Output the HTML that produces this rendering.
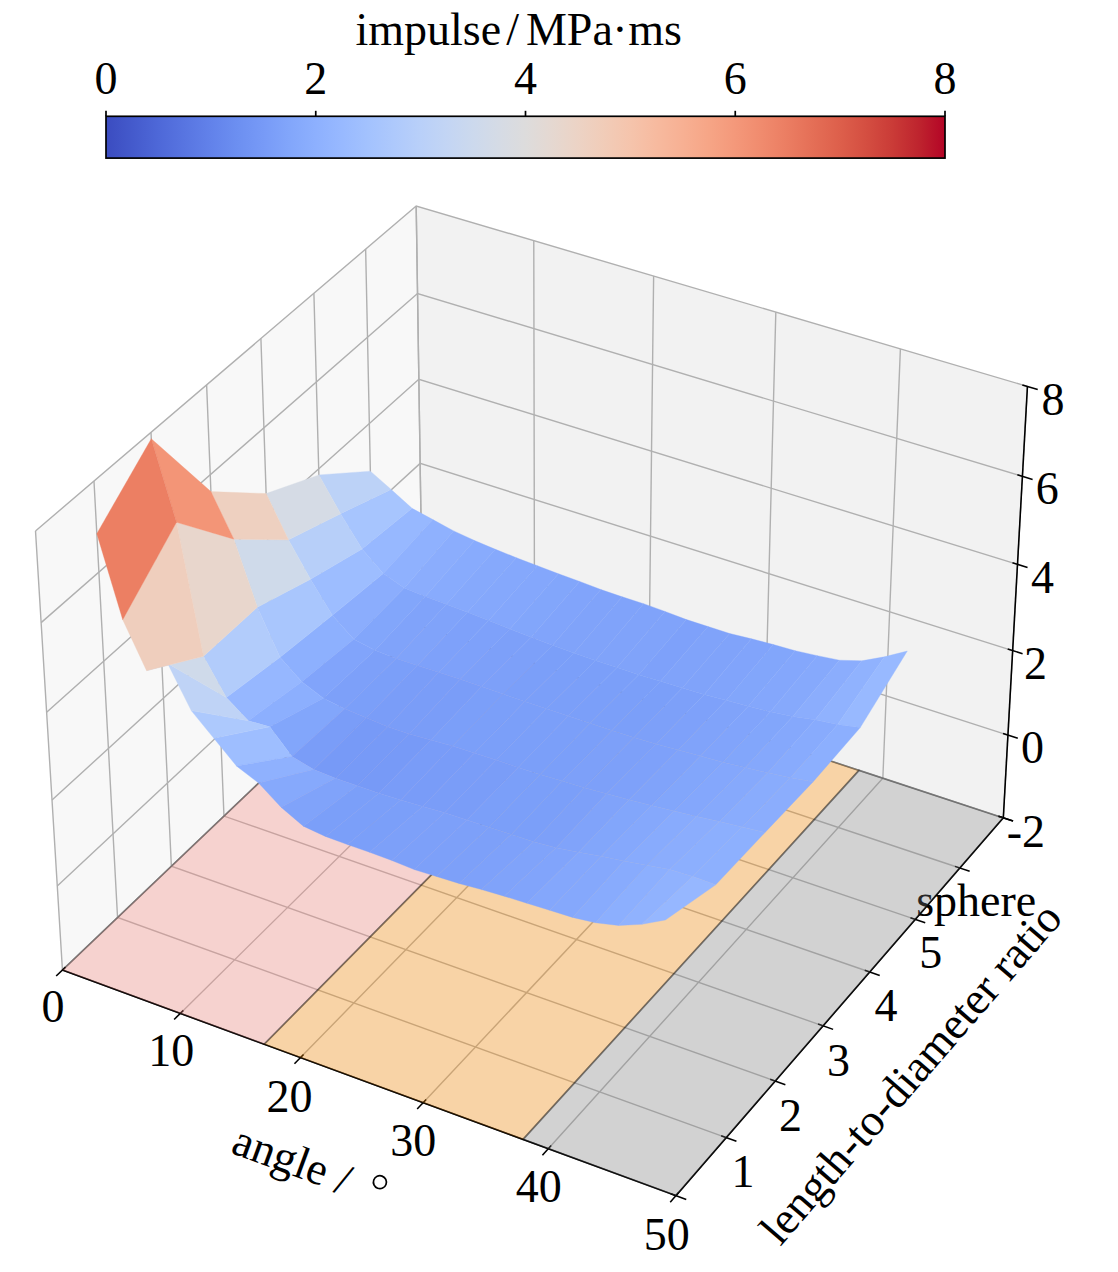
<!DOCTYPE html><html><head><meta charset="utf-8"><style>html,body{margin:0;padding:0;background:#fff;width:1118px;height:1272px;overflow:hidden}</style></head><body><svg width="1118" height="1272" viewBox="0 0 1118 1272" style="display:block">
<rect width="1118" height="1272" fill="#ffffff"/>
<polygon points="62.43,970.05 422.64,626.72 416.19,205.97 35.51,530.96" fill="#f8f8f8"/>
<polygon points="422.64,626.72 1003.31,817.84 1027.45,386.40 416.19,205.97" fill="#f2f2f2"/>
<polygon points="62.43,970.05 675.93,1195.64 1003.31,817.84 422.64,626.72" fill="#f5f5f5"/>
<g fill="none" stroke="#b0b0b0" stroke-width="1.4"><polyline points="62.43,970.05 422.64,626.72 416.19,205.97"/><polyline points="180.30,1013.39 534.56,663.55 533.78,240.68"/><polyline points="300.51,1057.60 648.52,701.06 653.63,276.06"/><polyline points="423.14,1102.69 764.60,739.27 775.82,312.12"/><polyline points="548.25,1148.69 882.84,778.19 900.40,348.90"/><polyline points="675.93,1195.64 1003.31,817.84 1027.45,386.40"/><polyline points="35.51,530.96 62.43,970.05 675.93,1195.64"/><polyline points="93.98,481.05 117.55,917.51 726.19,1137.63"/><polyline points="150.99,432.37 171.37,866.21 775.22,1081.05"/><polyline points="206.62,384.88 223.96,816.09 823.06,1025.85"/><polyline points="260.91,338.54 275.33,767.12 869.74,971.97"/><polyline points="313.90,293.29 325.55,719.26 915.32,919.37"/><polyline points="365.64,249.12 374.63,672.47 959.83,868.01"/><polyline points="416.19,205.97 422.64,626.72 1003.31,817.84"/><polyline points="1003.31,817.84 422.64,626.72 62.43,970.05"/><polyline points="1007.94,735.07 421.40,545.85 57.27,885.95"/><polyline points="1012.67,650.61 420.13,463.39 52.01,800.05"/><polyline points="1017.49,564.37 418.84,379.29 46.63,712.29"/><polyline points="1022.42,476.33 417.53,293.50 41.13,622.62"/><polyline points="1027.45,386.40 416.19,205.97 35.51,530.96"/></g>
<g fill="none" stroke="#000" stroke-width="1.55"><polyline points="62.43,970.05 675.93,1195.64"/><polyline points="675.93,1195.64 1003.31,817.84"/><polyline points="1003.31,817.84 1027.45,386.40"/><polyline points="56.17,976.01 65.55,967.08"/><polyline points="174.14,1019.47 183.37,1010.36"/><polyline points="294.46,1063.80 303.53,1054.50"/><polyline points="417.19,1109.01 426.10,1099.53"/><polyline points="542.42,1155.15 551.16,1145.47"/><polyline points="670.22,1202.23 678.78,1192.35"/><polyline points="686.26,1199.44 670.77,1193.74"/><polyline points="736.43,1141.34 721.08,1135.78"/><polyline points="785.37,1084.67 770.15,1079.25"/><polyline points="833.12,1029.37 818.03,1024.09"/><polyline points="879.73,975.41 864.76,970.25"/><polyline points="925.22,922.73 910.38,917.70"/><polyline points="969.65,871.29 954.93,866.37"/><polyline points="1013.04,821.04 998.45,816.24"/><polyline points="1013.04,821.04 998.45,816.24"/><polyline points="1017.78,738.25 1003.03,733.49"/><polyline points="1022.61,653.75 1007.70,649.04"/><polyline points="1027.54,567.48 1012.47,562.82"/><polyline points="1032.58,479.40 1017.35,474.79"/><polyline points="1037.73,389.44 1022.32,384.89"/></g>
<g font-family="Liberation Serif" fill="#000"><text x="52.9" y="1022.4" text-anchor="middle" font-size="46" >0</text><text x="171.3" y="1065.7" text-anchor="middle" font-size="46" >10</text><text x="289.5" y="1111.5" text-anchor="middle" font-size="46" >20</text><text x="413.2" y="1156.2" text-anchor="middle" font-size="46" >30</text><text x="538.7" y="1201.9" text-anchor="middle" font-size="46" >40</text><text x="666.7" y="1249.6" text-anchor="middle" font-size="46" >50</text><text x="743.0" y="1186.9" text-anchor="middle" font-size="46" >1</text><text x="790.5" y="1130.5" text-anchor="middle" font-size="46" >2</text><text x="838.4" y="1075.9" text-anchor="middle" font-size="46" >3</text><text x="886.0" y="1021.2" text-anchor="middle" font-size="46" >4</text><text x="930.8" y="968.2" text-anchor="middle" font-size="46" >5</text><text x="976.2" y="915.8" text-anchor="middle" font-size="46" >sphere</text><text x="1053.0" y="414.5" text-anchor="middle" font-size="46" >8</text><text x="1047.2" y="504.0" text-anchor="middle" font-size="46" >6</text><text x="1042.6" y="593.1" text-anchor="middle" font-size="46" >4</text><text x="1035.4" y="679.4" text-anchor="middle" font-size="46" >2</text><text x="1032.5" y="763.4" text-anchor="middle" font-size="46" >0</text><text x="1025.9" y="846.5" text-anchor="middle" font-size="46" >-2</text></g>
<g font-family="Liberation Serif" fill="#000" font-size="45.5"><g transform="translate(229.5,1152.5) rotate(20.18)"><text x="0" y="0">angle</text><text x="110" y="1">/</text><circle cx="151.4" cy="-24" r="6.5" fill="none" stroke="#000" stroke-width="1.7"/></g><g transform="translate(780.3,1246.9) rotate(-49.1)"><text x="0" y="0">length-to-diameter ratio</text></g></g>
<polygon points="62.43,970.05 264.20,1044.24 614.12,689.74 422.64,626.72" fill="#f8887e" fill-opacity="0.32" stroke="#000" stroke-opacity="0.32" stroke-width="1.7"/>
<polygon points="264.20,1044.24 523.03,1139.42 859.02,770.35 614.12,689.74" fill="#ff8c00" fill-opacity="0.32" stroke="#000" stroke-opacity="0.32" stroke-width="1.7"/>
<polygon points="523.03,1139.42 675.93,1195.64 1003.31,817.84 859.02,770.35" fill="#808080" fill-opacity="0.3" stroke="#000" stroke-opacity="0.3" stroke-width="1.7"/>
<g><polygon points="362.06,548.92 383.30,573.48 432.85,519.62 412.08,508.36" fill="#97b8ff" stroke="#97b8ff" stroke-width="0.35"/><polygon points="340.55,513.68 362.06,548.92 412.08,508.36 391.21,489.55" fill="#a7c5fe" stroke="#a7c5fe" stroke-width="0.35"/><polygon points="383.30,573.48 404.33,587.90 453.67,530.90 432.85,519.62" fill="#8fb1fe" stroke="#8fb1fe" stroke-width="0.35"/><polygon points="318.86,474.90 340.55,513.68 391.21,489.55 370.36,471.16" fill="#bcd2f7" stroke="#bcd2f7" stroke-width="0.35"/><polygon points="404.33,587.90 425.31,596.43 474.52,540.52 453.67,530.90" fill="#8badfd" stroke="#8badfd" stroke-width="0.35"/><polygon points="425.31,596.43 446.35,604.14 495.42,549.32 474.52,540.52" fill="#88abfd" stroke="#88abfd" stroke-width="0.35"/><polygon points="446.35,604.14 467.46,612.30 516.38,557.74 495.42,549.32" fill="#86a9fc" stroke="#86a9fc" stroke-width="0.35"/><polygon points="467.46,612.30 488.63,620.49 537.40,565.75 516.38,557.74" fill="#85a8fc" stroke="#85a8fc" stroke-width="0.35"/><polygon points="488.63,620.49 509.87,629.12 558.49,573.79 537.40,565.75" fill="#84a7fc" stroke="#84a7fc" stroke-width="0.35"/><polygon points="509.87,629.12 531.17,637.36 579.64,581.43 558.49,573.79" fill="#82a6fb" stroke="#82a6fb" stroke-width="0.35"/><polygon points="531.17,637.36 552.54,645.19 600.86,589.52 579.64,581.43" fill="#81a4fb" stroke="#81a4fb" stroke-width="0.35"/><polygon points="332.32,615.33 353.80,639.30 404.33,587.90 383.30,573.48" fill="#8badfd" stroke="#8badfd" stroke-width="0.35"/><polygon points="310.49,579.36 332.32,615.33 383.30,573.48 362.06,548.92" fill="#9dbdff" stroke="#9dbdff" stroke-width="0.35"/><polygon points="353.80,639.30 374.99,650.13 425.31,596.43 404.33,587.90" fill="#82a6fb" stroke="#82a6fb" stroke-width="0.35"/><polygon points="552.54,645.19 573.98,653.06 622.15,596.79 600.86,589.52" fill="#80a3fa" stroke="#80a3fa" stroke-width="0.35"/><polygon points="288.46,539.81 310.49,579.36 362.06,548.92 340.55,513.68" fill="#b7cff9" stroke="#b7cff9" stroke-width="0.35"/><polygon points="374.99,650.13 396.18,658.44 446.35,604.14 425.31,596.43" fill="#80a3fa" stroke="#80a3fa" stroke-width="0.35"/><polygon points="573.98,653.06 595.49,660.52 643.52,603.66 622.15,596.79" fill="#80a3fa" stroke="#80a3fa" stroke-width="0.35"/><polygon points="396.18,658.44 417.42,665.50 467.46,612.30 446.35,604.14" fill="#80a3fa" stroke="#80a3fa" stroke-width="0.35"/><polygon points="595.49,660.52 617.08,667.59 664.95,611.40 643.52,603.66" fill="#80a3fa" stroke="#80a3fa" stroke-width="0.35"/><polygon points="266.12,493.57 288.46,539.81 340.55,513.68 318.86,474.90" fill="#d5dbe5" stroke="#d5dbe5" stroke-width="0.35"/><polygon points="417.42,665.50 438.73,672.16 488.63,620.49 467.46,612.30" fill="#7ea1fa" stroke="#7ea1fa" stroke-width="0.35"/><polygon points="617.08,667.59 638.74,674.68 686.44,619.58 664.95,611.40" fill="#80a3fa" stroke="#80a3fa" stroke-width="0.35"/><polygon points="438.73,672.16 460.12,679.27 509.87,629.12 488.63,620.49" fill="#7ea1fa" stroke="#7ea1fa" stroke-width="0.35"/><polygon points="638.74,674.68 660.48,681.37 708.02,626.53 686.44,619.58" fill="#7ea1fa" stroke="#7ea1fa" stroke-width="0.35"/><polygon points="460.12,679.27 481.58,686.41 531.17,637.36 509.87,629.12" fill="#7da0f9" stroke="#7da0f9" stroke-width="0.35"/><polygon points="660.48,681.37 682.30,688.08 729.67,633.49 708.02,626.53" fill="#80a3fa" stroke="#80a3fa" stroke-width="0.35"/><polygon points="481.58,686.41 503.12,693.99 552.54,645.19 531.17,637.36" fill="#7da0f9" stroke="#7da0f9" stroke-width="0.35"/><polygon points="682.30,688.08 704.21,694.39 751.44,638.78 729.67,633.49" fill="#80a3fa" stroke="#80a3fa" stroke-width="0.35"/><polygon points="503.12,693.99 524.73,701.60 573.98,653.06 552.54,645.19" fill="#7b9ff9" stroke="#7b9ff9" stroke-width="0.35"/><polygon points="280.04,657.37 301.81,681.64 353.80,639.30 332.32,615.33" fill="#8db0fe" stroke="#8db0fe" stroke-width="0.35"/><polygon points="301.81,681.64 323.35,698.21 374.99,650.13 353.80,639.30" fill="#81a4fb" stroke="#81a4fb" stroke-width="0.35"/><polygon points="704.21,694.39 726.20,700.29 773.29,644.52 751.44,638.78" fill="#81a4fb" stroke="#81a4fb" stroke-width="0.35"/><polygon points="257.35,607.19 280.04,657.37 332.32,615.33 310.49,579.36" fill="#a9c6fd" stroke="#a9c6fd" stroke-width="0.35"/><polygon points="323.35,698.21 344.77,708.83 396.18,658.44 374.99,650.13" fill="#7da0f9" stroke="#7da0f9" stroke-width="0.35"/><polygon points="524.73,701.60 546.42,708.81 595.49,660.52 573.98,653.06" fill="#7b9ff9" stroke="#7b9ff9" stroke-width="0.35"/><polygon points="726.20,700.29 748.28,706.22 795.20,650.70 773.29,644.52" fill="#82a6fb" stroke="#82a6fb" stroke-width="0.35"/><polygon points="344.77,708.83 366.21,717.77 417.42,665.50 396.18,658.44" fill="#7b9ff9" stroke="#7b9ff9" stroke-width="0.35"/><polygon points="546.42,708.81 568.18,716.05 617.08,667.59 595.49,660.52" fill="#7b9ff9" stroke="#7b9ff9" stroke-width="0.35"/><polygon points="748.28,706.22 770.46,711.75 817.23,655.63 795.20,650.70" fill="#84a7fc" stroke="#84a7fc" stroke-width="0.35"/><polygon points="366.21,717.77 387.72,726.74 438.73,672.16 417.42,665.50" fill="#7a9df8" stroke="#7a9df8" stroke-width="0.35"/><polygon points="233.83,539.13 257.35,607.19 310.49,579.36 288.46,539.81" fill="#cfdaea" stroke="#cfdaea" stroke-width="0.35"/><polygon points="568.18,716.05 590.02,723.30 638.74,674.68 617.08,667.59" fill="#7b9ff9" stroke="#7b9ff9" stroke-width="0.35"/><polygon points="387.72,726.74 409.26,734.03 460.12,679.27 438.73,672.16" fill="#7a9df8" stroke="#7a9df8" stroke-width="0.35"/><polygon points="770.46,711.75 792.74,716.43 839.37,660.15 817.23,655.63" fill="#86a9fc" stroke="#86a9fc" stroke-width="0.35"/><polygon points="590.02,723.30 611.93,730.59 660.48,681.37 638.74,674.68" fill="#7b9ff9" stroke="#7b9ff9" stroke-width="0.35"/><polygon points="210.91,491.62 233.83,539.13 288.46,539.81 266.12,493.57" fill="#eed0c0" stroke="#eed0c0" stroke-width="0.35"/><polygon points="409.26,734.03 430.86,740.05 481.58,686.41 460.12,679.27" fill="#7a9df8" stroke="#7a9df8" stroke-width="0.35"/><polygon points="611.93,730.59 633.93,737.47 682.30,688.08 660.48,681.37" fill="#7b9ff9" stroke="#7b9ff9" stroke-width="0.35"/><polygon points="792.74,716.43 815.16,719.85 861.74,660.84 839.37,660.15" fill="#8badfd" stroke="#8badfd" stroke-width="0.35"/><polygon points="430.86,740.05 452.54,746.10 503.12,693.99 481.58,686.41" fill="#7b9ff9" stroke="#7b9ff9" stroke-width="0.35"/><polygon points="633.93,737.47 656.01,743.95 704.21,694.39 682.30,688.08" fill="#7da0f9" stroke="#7da0f9" stroke-width="0.35"/><polygon points="815.16,719.85 837.64,724.58 884.42,656.81 861.74,660.84" fill="#90b2fe" stroke="#90b2fe" stroke-width="0.35"/><polygon points="452.54,746.10 474.31,753.04 524.73,701.60 503.12,693.99" fill="#7b9ff9" stroke="#7b9ff9" stroke-width="0.35"/><polygon points="656.01,743.95 678.18,750.02 726.20,700.29 704.21,694.39" fill="#7ea1fa" stroke="#7ea1fa" stroke-width="0.35"/><polygon points="226.30,697.47 248.32,720.75 301.81,681.64 280.04,657.37" fill="#96b7ff" stroke="#96b7ff" stroke-width="0.35"/><polygon points="248.32,720.75 269.76,726.79 323.35,698.21 301.81,681.64" fill="#8caffe" stroke="#8caffe" stroke-width="0.35"/><polygon points="474.31,753.04 496.16,759.99 546.42,708.81 524.73,701.60" fill="#7b9ff9" stroke="#7b9ff9" stroke-width="0.35"/><polygon points="837.64,724.58 860.27,727.60 907.31,651.04 884.42,656.81" fill="#98b9ff" stroke="#98b9ff" stroke-width="0.35"/><polygon points="269.76,726.79 292.02,756.56 344.77,708.83 323.35,698.21" fill="#82a6fb" stroke="#82a6fb" stroke-width="0.35"/><polygon points="678.18,750.02 700.43,756.12 748.28,706.22 726.20,700.29" fill="#80a3fa" stroke="#80a3fa" stroke-width="0.35"/><polygon points="203.51,656.36 226.30,697.47 280.04,657.37 257.35,607.19" fill="#b2ccfb" stroke="#b2ccfb" stroke-width="0.35"/><polygon points="292.02,756.56 313.75,769.55 366.21,717.77 344.77,708.83" fill="#7a9df8" stroke="#7a9df8" stroke-width="0.35"/><polygon points="496.16,759.99 518.10,767.40 568.18,716.05 546.42,708.81" fill="#7b9ff9" stroke="#7b9ff9" stroke-width="0.35"/><polygon points="700.43,756.12 722.77,762.24 770.46,711.75 748.28,706.22" fill="#81a4fb" stroke="#81a4fb" stroke-width="0.35"/><polygon points="313.75,769.55 335.42,778.28 387.72,726.74 366.21,717.77" fill="#779af7" stroke="#779af7" stroke-width="0.35"/><polygon points="518.10,767.40 540.11,774.41 590.02,723.30 568.18,716.05" fill="#7b9ff9" stroke="#7b9ff9" stroke-width="0.35"/><polygon points="335.42,778.28 357.13,785.74 409.26,734.03 387.72,726.74" fill="#779af7" stroke="#779af7" stroke-width="0.35"/><polygon points="722.77,762.24 745.22,767.52 792.74,716.43 770.46,711.75" fill="#82a6fb" stroke="#82a6fb" stroke-width="0.35"/><polygon points="540.11,774.41 562.20,781.01 611.93,730.59 590.02,723.30" fill="#7b9ff9" stroke="#7b9ff9" stroke-width="0.35"/><polygon points="357.13,785.74 378.91,793.23 430.86,740.05 409.26,734.03" fill="#779af7" stroke="#779af7" stroke-width="0.35"/><polygon points="745.22,767.52 767.76,772.82 815.16,719.85 792.74,716.43" fill="#85a8fc" stroke="#85a8fc" stroke-width="0.35"/><polygon points="562.20,781.01 584.37,787.64 633.93,737.47 611.93,730.59" fill="#7da0f9" stroke="#7da0f9" stroke-width="0.35"/><polygon points="176.50,522.30 203.51,656.36 257.35,607.19 233.83,539.13" fill="#e8d6cc" stroke="#e8d6cc" stroke-width="0.35"/><polygon points="378.91,793.23 400.76,799.89 452.54,746.10 430.86,740.05" fill="#799cf8" stroke="#799cf8" stroke-width="0.35"/><polygon points="767.76,772.82 790.40,777.71 837.64,724.58 815.16,719.85" fill="#88abfd" stroke="#88abfd" stroke-width="0.35"/><polygon points="584.37,787.64 606.63,793.86 656.01,743.95 633.93,737.47" fill="#7da0f9" stroke="#7da0f9" stroke-width="0.35"/><polygon points="400.76,799.89 422.69,806.57 474.31,753.04 452.54,746.10" fill="#799cf8" stroke="#799cf8" stroke-width="0.35"/><polygon points="606.63,793.86 628.99,799.67 678.18,750.02 656.01,743.95" fill="#7ea1fa" stroke="#7ea1fa" stroke-width="0.35"/><polygon points="790.40,777.71 813.17,781.76 860.27,727.60 837.64,724.58" fill="#8caffe" stroke="#8caffe" stroke-width="0.35"/><polygon points="422.69,806.57 444.70,812.84 496.16,759.99 474.31,753.04" fill="#7a9df8" stroke="#7a9df8" stroke-width="0.35"/><polygon points="628.99,799.67 651.43,805.51 700.43,756.12 678.18,750.02" fill="#80a3fa" stroke="#80a3fa" stroke-width="0.35"/><polygon points="444.70,812.84 466.80,820.01 518.10,767.40 496.16,759.99" fill="#7a9df8" stroke="#7a9df8" stroke-width="0.35"/><polygon points="151.29,438.77 176.50,522.30 233.83,539.13 210.91,491.62" fill="#f39577" stroke="#f39577" stroke-width="0.35"/><polygon points="651.43,805.51 673.96,810.94 722.77,762.24 700.43,756.12" fill="#82a6fb" stroke="#82a6fb" stroke-width="0.35"/><polygon points="466.80,820.01 488.98,827.20 540.11,774.41 518.10,767.40" fill="#7b9ff9" stroke="#7b9ff9" stroke-width="0.35"/><polygon points="213.82,738.29 236.42,765.93 292.02,756.56 269.76,726.79" fill="#9ebeff" stroke="#9ebeff" stroke-width="0.35"/><polygon points="236.42,765.93 258.61,783.09 313.75,769.55 292.02,756.56" fill="#8fb1fe" stroke="#8fb1fe" stroke-width="0.35"/><polygon points="191.19,710.60 213.82,738.29 269.76,726.79 248.32,720.75" fill="#adc9fd" stroke="#adc9fd" stroke-width="0.35"/><polygon points="167.63,663.38 191.19,710.60 248.32,720.75 226.30,697.47" fill="#bfd3f6" stroke="#bfd3f6" stroke-width="0.35"/><polygon points="258.61,783.09 281.06,807.23 335.42,778.28 313.75,769.55" fill="#86a9fc" stroke="#86a9fc" stroke-width="0.35"/><polygon points="673.96,810.94 696.60,816.38 745.22,767.52 722.77,762.24" fill="#84a7fc" stroke="#84a7fc" stroke-width="0.35"/><polygon points="146.60,670.63 167.63,663.38 226.30,697.47 203.51,656.36" fill="#cfdaea" stroke="#cfdaea" stroke-width="0.35"/><polygon points="488.98,827.20 511.25,834.41 562.20,781.01 540.11,774.41" fill="#7b9ff9" stroke="#7b9ff9" stroke-width="0.35"/><polygon points="281.06,807.23 303.35,826.15 357.13,785.74 335.42,778.28" fill="#80a3fa" stroke="#80a3fa" stroke-width="0.35"/><polygon points="303.35,826.15 325.41,836.43 378.91,793.23 357.13,785.74" fill="#7b9ff9" stroke="#7b9ff9" stroke-width="0.35"/><polygon points="696.60,816.38 719.33,821.42 767.76,772.82 745.22,767.52" fill="#86a9fc" stroke="#86a9fc" stroke-width="0.35"/><polygon points="511.25,834.41 533.59,841.66 584.37,787.64 562.20,781.01" fill="#7b9ff9" stroke="#7b9ff9" stroke-width="0.35"/><polygon points="325.41,836.43 347.48,844.56 400.76,799.89 378.91,793.23" fill="#7b9ff9" stroke="#7b9ff9" stroke-width="0.35"/><polygon points="122.73,619.74 146.60,670.63 203.51,656.36 176.50,522.30" fill="#efcebd" stroke="#efcebd" stroke-width="0.35"/><polygon points="719.33,821.42 742.15,826.91 790.40,777.71 767.76,772.82" fill="#89acfd" stroke="#89acfd" stroke-width="0.35"/><polygon points="533.59,841.66 556.02,847.63 606.63,793.86 584.37,787.64" fill="#7da0f9" stroke="#7da0f9" stroke-width="0.35"/><polygon points="347.48,844.56 369.62,852.28 422.69,806.57 400.76,799.89" fill="#7b9ff9" stroke="#7b9ff9" stroke-width="0.35"/><polygon points="742.15,826.91 765.06,832.43 813.17,781.76 790.40,777.71" fill="#8badfd" stroke="#8badfd" stroke-width="0.35"/><polygon points="556.02,847.63 578.55,852.31 628.99,799.67 606.63,793.86" fill="#80a3fa" stroke="#80a3fa" stroke-width="0.35"/><polygon points="369.62,852.28 391.84,860.47 444.70,812.84 422.69,806.57" fill="#7da0f9" stroke="#7da0f9" stroke-width="0.35"/><polygon points="578.55,852.31 601.18,856.15 651.43,805.51 628.99,799.67" fill="#82a6fb" stroke="#82a6fb" stroke-width="0.35"/><polygon points="391.84,860.47 414.17,869.56 466.80,820.01 444.70,812.84" fill="#7da0f9" stroke="#7da0f9" stroke-width="0.35"/><polygon points="601.18,856.15 623.91,860.88 673.96,810.94 651.43,805.51" fill="#85a8fc" stroke="#85a8fc" stroke-width="0.35"/><polygon points="414.17,869.56 436.53,876.49 488.98,827.20 466.80,820.01" fill="#7da0f9" stroke="#7da0f9" stroke-width="0.35"/><polygon points="96.82,533.65 122.73,619.74 176.50,522.30 151.29,438.77" fill="#ec7f63" stroke="#ec7f63" stroke-width="0.35"/><polygon points="623.91,860.88 646.74,865.19 696.60,816.38 673.96,810.94" fill="#88abfd" stroke="#88abfd" stroke-width="0.35"/><polygon points="436.53,876.49 458.98,883.46 511.25,834.41 488.98,827.20" fill="#7da0f9" stroke="#7da0f9" stroke-width="0.35"/><polygon points="458.98,883.46 481.51,889.58 533.59,841.66 511.25,834.41" fill="#7ea1fa" stroke="#7ea1fa" stroke-width="0.35"/><polygon points="646.74,865.19 669.68,869.52 719.33,821.42 696.60,816.38" fill="#8badfd" stroke="#8badfd" stroke-width="0.35"/><polygon points="481.51,889.58 504.13,896.16 556.02,847.63 533.59,841.66" fill="#80a3fa" stroke="#80a3fa" stroke-width="0.35"/><polygon points="669.68,869.52 692.67,876.50 742.15,826.91 719.33,821.42" fill="#8caffe" stroke="#8caffe" stroke-width="0.35"/><polygon points="504.13,896.16 526.85,903.21 578.55,852.31 556.02,847.63" fill="#81a4fb" stroke="#81a4fb" stroke-width="0.35"/><polygon points="692.67,876.50 715.72,884.83 765.06,832.43 742.15,826.91" fill="#8db0fe" stroke="#8db0fe" stroke-width="0.35"/><polygon points="526.85,903.21 549.65,910.28 601.18,856.15 578.55,852.31" fill="#84a7fc" stroke="#84a7fc" stroke-width="0.35"/><polygon points="549.65,910.28 572.54,917.38 623.91,860.88 601.18,856.15" fill="#85a8fc" stroke="#85a8fc" stroke-width="0.35"/><polygon points="572.54,917.38 595.53,922.75 646.74,865.19 623.91,860.88" fill="#88abfd" stroke="#88abfd" stroke-width="0.35"/><polygon points="595.53,922.75 618.65,925.51 669.68,869.52 646.74,865.19" fill="#8caffe" stroke="#8caffe" stroke-width="0.35"/><polygon points="618.65,925.51 641.92,924.31 692.67,876.50 669.68,869.52" fill="#90b2fe" stroke="#90b2fe" stroke-width="0.35"/><polygon points="641.92,924.31 665.38,920.00 715.72,884.83 692.67,876.50" fill="#96b7ff" stroke="#96b7ff" stroke-width="0.35"/></g>
<defs><linearGradient id="cw" x1="0" x2="1" y1="0" y2="0"><stop offset="0.0000" stop-color="#3b4cc0"/><stop offset="0.0312" stop-color="#445acc"/><stop offset="0.0625" stop-color="#4e68d8"/><stop offset="0.0938" stop-color="#5875e1"/><stop offset="0.1250" stop-color="#6282ea"/><stop offset="0.1562" stop-color="#6c8ff1"/><stop offset="0.1875" stop-color="#779af7"/><stop offset="0.2188" stop-color="#82a6fb"/><stop offset="0.2500" stop-color="#8db0fe"/><stop offset="0.2812" stop-color="#98b9ff"/><stop offset="0.3125" stop-color="#a3c2fe"/><stop offset="0.3438" stop-color="#aec9fc"/><stop offset="0.3750" stop-color="#b9d0f9"/><stop offset="0.4062" stop-color="#c3d5f4"/><stop offset="0.4375" stop-color="#ccd9ed"/><stop offset="0.4688" stop-color="#d5dbe5"/><stop offset="0.5000" stop-color="#dddcdc"/><stop offset="0.5312" stop-color="#e5d8d1"/><stop offset="0.5625" stop-color="#ecd3c5"/><stop offset="0.5938" stop-color="#f1ccb8"/><stop offset="0.6250" stop-color="#f5c4ac"/><stop offset="0.6562" stop-color="#f7ba9f"/><stop offset="0.6875" stop-color="#f7b093"/><stop offset="0.7188" stop-color="#f6a586"/><stop offset="0.7500" stop-color="#f4987a"/><stop offset="0.7812" stop-color="#f08b6e"/><stop offset="0.8125" stop-color="#eb7d62"/><stop offset="0.8438" stop-color="#e46e56"/><stop offset="0.8750" stop-color="#dd5f4b"/><stop offset="0.9062" stop-color="#d44e41"/><stop offset="0.9375" stop-color="#ca3b37"/><stop offset="0.9688" stop-color="#be242e"/><stop offset="1.0000" stop-color="#b40426"/></linearGradient></defs>
<rect x="106.0" y="116.3" width="839.0" height="41.8" fill="url(#cw)" stroke="#000" stroke-width="1.7"/>
<g font-family="Liberation Serif" fill="#000"><line x1="106.00" y1="116.3" x2="106.00" y2="110.8" stroke="#000" stroke-width="1.7"/><text x="106.0" y="94" text-anchor="middle" font-size="46">0</text><line x1="315.75" y1="116.3" x2="315.75" y2="110.8" stroke="#000" stroke-width="1.7"/><text x="315.8" y="94" text-anchor="middle" font-size="46">2</text><line x1="525.50" y1="116.3" x2="525.50" y2="110.8" stroke="#000" stroke-width="1.7"/><text x="525.5" y="94" text-anchor="middle" font-size="46">4</text><line x1="735.25" y1="116.3" x2="735.25" y2="110.8" stroke="#000" stroke-width="1.7"/><text x="735.2" y="94" text-anchor="middle" font-size="46">6</text><line x1="945.00" y1="116.3" x2="945.00" y2="110.8" stroke="#000" stroke-width="1.7"/><text x="945.0" y="94" text-anchor="middle" font-size="46">8</text><text x="355.5" y="44.5" font-size="46">impulse<tspan dx="5">/</tspan><tspan dx="7">MPa</tspan><tspan dx="-0.5">·</tspan><tspan dx="0.6">ms</tspan></text></g>
</svg></body></html>
